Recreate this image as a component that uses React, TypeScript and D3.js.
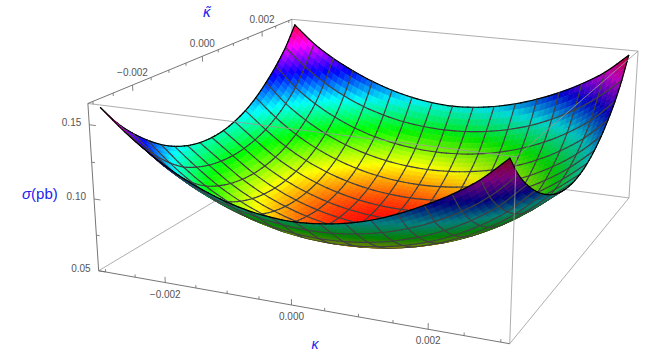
import React from "react";
import * as d3 from "d3";

const W = 661, H = 354;
// cross section, units of 0.001 pb; rows: kappa-tilde from -0.003 to 0.003, columns: kappa from -0.003 to 0.003
const sigmaGrid = [
[160.5,146.6,134.8,124.7,116.8,110.7,106.3,103.8,103,104.3,107,111.5,117.8,125.7,134.8,146,161],
[146,133,121,111.5,104.5,99.2,95.4,92.9,91.9,92.4,94.4,97.9,103,109.9,118.9,130.4,146],
[134.5,121,109,99.8,92.8,87.4,83.6,81.2,80.3,80.9,82.9,86.4,91.5,98.4,107.4,118.9,134.8],
[125,110.9,99.2,90,83,77.8,74.1,72,71.2,71.9,73.9,77.4,82.5,89.4,98.4,109.9,125.7],
[117,103,91.5,82.5,75.6,70.5,67,65,64.3,65,67,70.5,75.6,82.5,91.5,103,118.3],
[111,97.9,86.4,77.4,70.5,65.4,61.9,59.9,59.2,59.9,61.9,65.4,70.5,77.4,86.4,97.9,112.5],
[106.8,94.4,82.9,73.9,67,61.9,58.4,56.4,55.7,56.4,58.4,61.9,67,73.9,82.9,94.4,108.3],
[104.3,92.4,80.9,71.9,65,59.9,56.4,54.4,53.7,54.4,56.4,59.9,65,71.9,80.9,92.4,105.8],
[103.5,91.7,80.2,71.2,64.3,59.2,55.7,53.7,53,53.7,55.7,59.2,64.3,71.2,80.2,91.7,105],
[104.3,92.4,80.9,71.9,65,59.9,56.4,54.4,53.7,54.4,56.4,59.9,65,71.9,80.9,92.4,105.8],
[106.8,94.4,82.9,73.9,67,61.9,58.4,56.4,55.7,56.4,58.4,61.9,67,73.9,82.9,94.4,108.3],
[111,97.9,86.4,77.4,70.5,65.4,61.9,59.9,59.2,59.9,61.9,65.4,70.5,77.4,86.4,97.9,112.5],
[117,103,91.5,82.5,75.6,70.5,67,65,64.3,65,67,70.5,75.6,82.5,91.5,103,118.3],
[125,109.9,98.4,89.4,82.5,77.4,73.9,71.9,71.2,71.9,73.9,77.4,82.5,89.4,98.4,109.9,125.7],
[134.5,118.9,107.4,98.4,91.5,86.4,82.9,80.9,80.2,80.9,82.9,86.4,91.5,98.4,107.4,118.9,134.8],
[146,132,120.5,111.5,104.5,99.5,96,94,93.3,94,96,99.5,104.5,111.5,120.5,132,146.5],
[161,147,136.5,128,121,115.5,111.5,109,108,109,111.5,115.5,121,128,136.5,147,161.5],
];
const kappaDomain = [-0.003, 0.003];
const kappaMajor = [-0.002, 0, 0.002];
const kappaMinor = [-0.003, -0.0025, -0.0015, -0.001, -0.0005, 0.0005, 0.001, 0.0015, 0.0025, 0.003];
const sigmaMajor = [0.05, 0.1, 0.15];
const sigmaMinor = [0.075, 0.125];
const boxKappa = [-0.00312, 0.00312];
const boxSigma = [0.05, 0.164];
const hueSigma = [0.053, 0.165];

// box corners as seen on the page
const corners: [number, number, number, number, number][] = [
  [-1, -1, -1, 98.5, 270], [1, -1, -1, 510, 344], [1, 1, -1, 629, 197], [-1, 1, -1, 294, 155],
  [-1, -1, 1, 88, 103], [1, -1, 1, 516, 158], [1, 1, 1, 638, 51], [-1, 1, 1, 292, 19],
];

function solve(A: number[][], b: number[]) {
  const n = b.length;
  const M = A.map((r, i) => [...r, b[i]]);
  for (let c = 0; c < n; c++) {
    let p = c;
    for (let r = c + 1; r < n; r++) if (Math.abs(M[r][c]) > Math.abs(M[p][c])) p = r;
    [M[c], M[p]] = [M[p], M[c]];
    for (let r = 0; r < n; r++) {
      if (r === c) continue;
      const f = M[r][c] / M[c][c];
      for (let k = c; k <= n; k++) M[r][k] -= f * M[c][k];
    }
  }
  return M.map((r, i) => r[n] / r[i]);
}
function fitCamera() {
  const rows: number[][] = [], rhs: number[] = [];
  const s = 300;
  for (const [X, Y, Z, px, py] of corners) {
    const u = px / s, v = py / s;
    rows.push([X, Y, Z, 1, 0, 0, 0, 0, -u * X, -u * Y, -u * Z]); rhs.push(u);
    rows.push([0, 0, 0, 0, X, Y, Z, 1, -v * X, -v * Y, -v * Z]); rhs.push(v);
  }
  const AtA = d3.range(11).map((i) => d3.range(11).map((j) => d3.sum(rows, (r) => r[i] * r[j])));
  const Atb = d3.range(11).map((i) => d3.sum(rows, (r, k) => r[i] * rhs[k]));
  const p = solve(AtA, Atb);
  return { p, s };
}
const cam = fitCamera();
function project(X: number, Y: number, Z: number) {
  const p = cam.p;
  const w = p[8] * X + p[9] * Y + p[10] * Z + 1;
  return {
    x: (cam.s * (p[0] * X + p[1] * Y + p[2] * Z + p[3])) / w,
    y: (cam.s * (p[4] * X + p[5] * Y + p[6] * Z + p[7])) / w,
    w,
  };
}
const sx = d3.scaleLinear().domain(boxKappa).range([-1, 1]);
const sz = d3.scaleLinear().domain(boxSigma).range([-1, 1]);
const hueScale = d3.scaleLinear().domain(hueSigma).range([0, 1]);

const SUB = 4;
const CELLS = sigmaGrid.length - 1;
const N = CELLS * SUB;
const cr = (a: number, b: number, c: number, d: number, t: number) =>
  0.5 * (2 * b + (c - a) * t + (2 * a - 5 * b + 4 * c - d) * t * t + (3 * b - a - 3 * c + d) * t * t * t);
function at(j: number, i: number) {
  const cj = Math.max(0, Math.min(CELLS, j)), ci = Math.max(0, Math.min(CELLS, i));
  let v = sigmaGrid[cj][ci];
  if (j !== cj) v = 2 * v - sigmaGrid[cj + (j < 0 ? 1 : -1)][ci];
  if (i !== ci) v = 2 * v - sigmaGrid[cj][ci + (i < 0 ? 1 : -1)];
  return v;
}
function smooth(fj: number, fi: number) {
  const j = Math.min(CELLS - 1, Math.floor(fj)), i = Math.min(CELLS - 1, Math.floor(fi));
  const tj = fj - j, ti = fi - i;
  const col = [-1, 0, 1, 2].map((d) =>
    cr(at(j + d, i - 1), at(j + d, i), at(j + d, i + 1), at(j + d, i + 2), ti));
  return cr(col[0], col[1], col[2], col[3], tj) / 1000;
}
const gridK = d3.scaleLinear().domain([0, N]).range(kappaDomain);
const fine = d3.range(N + 1).map((b) =>
  d3.range(N + 1).map((a) => {
    const z = smooth(b / SUB, a / SUB);
    const X = sx(gridK(a)), Y = sx(gridK(b)), Z = sz(z);
    return { X, Y, Z, z, ...project(X, Y, Z) };
  }));

const LIGHT = [0.5, -0.12, 0.85];
type Item = { w: number; kind: 0 | 1; d: string; color: string; width: number };
function buildItems() {
  const items: Item[] = [];
  const ws = fine.flat().map((p) => p.w);
  const bias = 0.025 * ((d3.max(ws) as number) - (d3.min(ws) as number));
  for (let b = 0; b < N; b++) {
    for (let a = 0; a < N; a++) {
      const q = [fine[b][a], fine[b][a + 1], fine[b + 1][a + 1], fine[b + 1][a]];
      const ux = q[1].X - q[0].X + q[2].X - q[3].X, uz = q[1].Z - q[0].Z + q[2].Z - q[3].Z;
      const vy = q[3].Y - q[0].Y + q[2].Y - q[1].Y, vz = q[3].Z - q[0].Z + q[2].Z - q[1].Z;
      let nx = -uz * vy, ny = -ux * vz, nz = ux * vy;
      const len = Math.hypot(nx, ny, nz);
      nx /= len; ny /= len; nz /= len;
      const area = d3.polygonArea(q.map((p) => [p.x, p.y] as [number, number]));
      const dot = nx * LIGHT[0] + ny * LIGHT[1] + nz * LIGHT[2];
      const top = area > 0;
      const shade = top ? Math.min(1, 0.72 + 0.42 * dot) : 0.5 + 0.08 * dot;
      const zm = d3.mean(q, (p) => p.z) as number;
      const h = Math.max(0, Math.min(1, hueScale(zm)));
      const c = d3.rgb(d3.hsl(h * 360, 1, 0.5));
      const color = d3.rgb(c.r * shade, c.g * shade, c.b * shade).formatHex();
      items.push({
        w: d3.mean(q, (p) => p.w) as number,
        kind: 0,
        d: "M" + q.map((p) => `${p.x.toFixed(2)},${p.y.toFixed(2)}`).join("L") + "Z",
        color,
        width: 0.6,
      });
    }
  }
  const seg = (p: any, q: any, edge: boolean) =>
    items.push({
      w: (p.w + q.w) / 2 - bias,
      kind: 1,
      d: `M${p.x.toFixed(2)},${p.y.toFixed(2)}L${q.x.toFixed(2)},${q.y.toFixed(2)}`,
      color: edge ? "#000" : "#404040",
      width: edge ? 1.2 : 1.15,
    });
  for (let m = 0; m <= N; m += SUB) {
    const edge = m === 0 || m === N;
    for (let t = 0; t < N; t++) {
      seg(fine[m][t], fine[m][t + 1], edge);
      seg(fine[t][m], fine[t + 1][m], edge);
    }
  }
  return items.sort((a, b) => b.w - a.w);
}
const items = buildItems();

const P = (X: number, Y: number, Z: number) => project(X, Y, Z);
const line = (a: [number, number, number], b: [number, number, number]) => {
  const p = P(...a), q = P(...b);
  return `M${p.x},${p.y}L${q.x},${q.y}`;
};
const backEdges: [[number, number, number], [number, number, number]][] = [
  [[-1, 1, 1], [1, 1, 1]], [[-1, 1, -1], [1, 1, -1]], [[-1, -1, -1], [-1, 1, -1]], [[-1, 1, -1], [-1, 1, 1]],
];
const frontEdges: [[number, number, number], [number, number, number]][] = [
  [[-1, -1, 1], [1, -1, 1]], [[1, -1, 1], [1, 1, 1]], [[1, -1, 1], [1, -1, -1]], [[1, 1, 1], [1, 1, -1]], [[1, -1, -1], [1, 1, -1]],
];
const axisEdges: [[number, number, number], [number, number, number]][] = [
  [[-1, -1, -1], [1, -1, -1]], [[-1, -1, 1], [-1, 1, 1]], [[-1, -1, -1], [-1, -1, 1]],
];
const fmt = (v: number) => (v < 0 ? "\u2212" : "") + Math.abs(v).toFixed(3);

export default function App() {
  const tick = { stroke: "#666", strokeWidth: 0.8, fill: "none" };
  const txt = { fontFamily: "'Liberation Sans', sans-serif", fontSize: 10, fill: "#555" };
  const label = { fontFamily: "'Liberation Sans', sans-serif", fill: "#2222ee" };
  return (
    <svg width={W} height={H} style={{ position: "absolute", left: 0, top: 0, display: "block" }}>
      <rect width={W} height={H} fill="#fff" />
      {backEdges.map((e, i) => <path key={i} d={line(e[0], e[1])} stroke="#999" strokeWidth={0.8} fill="none" />)}
      <g>
        {items.map((it, i) =>
          it.kind === 0 ? (
            <path key={i} d={it.d} fill={it.color} stroke={it.color} strokeWidth={it.width} />
          ) : (
            <path key={i} d={it.d} fill="none" stroke={it.color} strokeWidth={it.width} strokeLinecap="round" />
          ))}
      </g>
      {frontEdges.map((e, i) => <path key={i} d={line(e[0], e[1])} stroke="#999" strokeWidth={0.8} fill="none" />)}
      {axisEdges.map((e, i) => <path key={i} d={line(e[0], e[1])} stroke="#666" strokeWidth={0.9} fill="none" />)}
      {kappaMajor.concat(kappaMinor).map((k, i) => {
        const len = kappaMajor.includes(k) ? 0.07 : 0.035;
        const X = sx(k);
        return (
          <g key={i}>
            <path d={line([X, -1, -1], [X, -1, -1 + len])} {...tick} />
            <path d={line([-1, X, 1], [-1, X, 1 - len])} {...tick} />
          </g>
        );
      })}
      {sigmaMajor.concat(sigmaMinor).map((s, i) => {
        const len = sigmaMajor.includes(s) ? 0.035 : 0.018;
        return <path key={i} d={line([-1, -1, sz(s)], [-1 + len, -1, sz(s)])} {...tick} />;
      })}
      {kappaMajor.map((k, i) => {
        const p = P(sx(k), -1, -1), q = P(-1, sx(k), 1);
        return (
          <g key={i}>
            <text x={p.x} y={p.y + 15} textAnchor="middle" {...txt}>{fmt(k)}</text>
            <text x={q.x} y={q.y - 9} textAnchor="middle" {...txt}>{fmt(k)}</text>
          </g>
        );
      })}
      {sigmaMajor.map((s, i) => {
        const p = P(-1, -1, sz(s));
        return <text key={i} x={p.x - 8} y={p.y + 1} textAnchor="end" {...txt}>{s.toFixed(2)}</text>;
      })}
      <text x={22} y={199} fontSize={15} {...label}><tspan fontStyle="italic">σ</tspan>(pb)</text>
      <text x={207} y={17} fontSize={14} fontStyle="italic" textAnchor="middle" fontFamily="'DejaVu Sans', sans-serif" fill="#2222ee">κ̃</text>
      <text x={315} y={349} fontSize={14} fontStyle="italic" textAnchor="middle" {...label}>κ</text>
    </svg>
  );
}
